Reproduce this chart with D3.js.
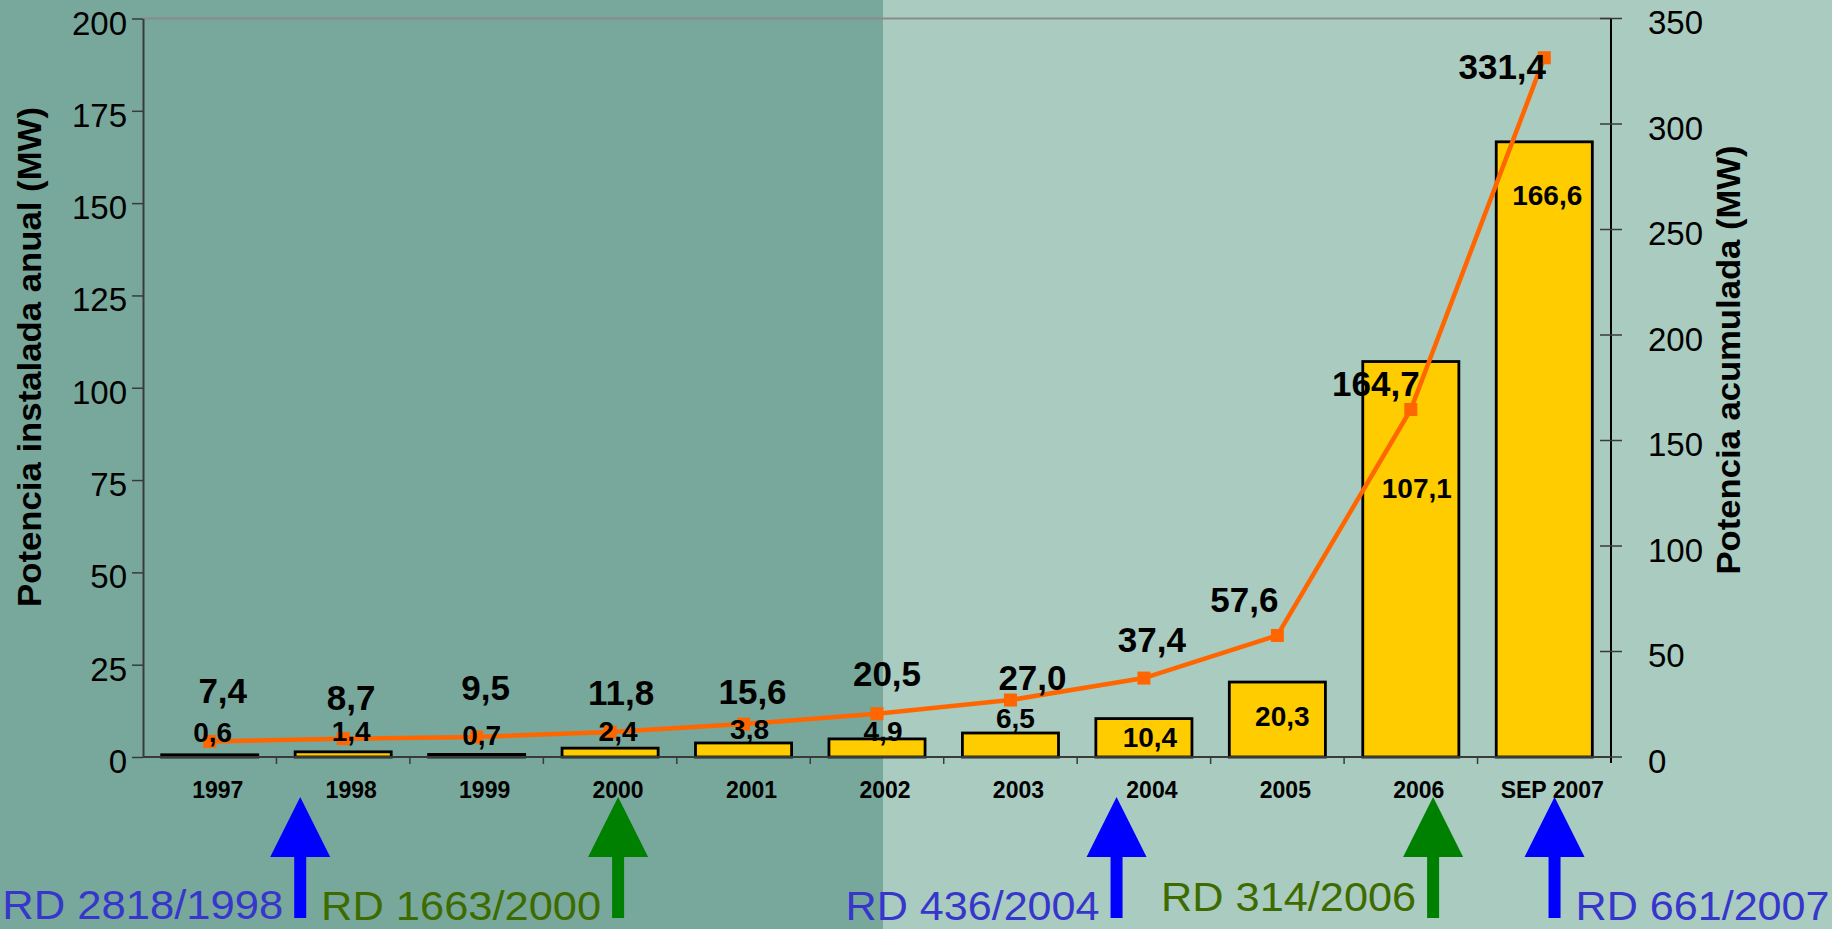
<!DOCTYPE html>
<html>
<head>
<meta charset="utf-8">
<script src="https://cdn.jsdelivr.net/npm/d3@7"></script>
<style>
  html, body { margin: 0; padding: 0; background: #aacbbf; }
  svg { display: block; font-family: "Liberation Sans", Arial, sans-serif; }
</style>
</head>
<body>
<div id="chart"></div>
<script>
// chart values
var categories = ["1997", "1998", "1999", "2000", "2001", "2002", "2003", "2004", "2005", "2006", "SEP 2007"];
var annual = [0.6, 1.4, 0.7, 2.4, 3.8, 4.9, 6.5, 10.4, 20.3, 107.1, 166.6];
var cumulative = [7.4, 8.7, 9.5, 11.8, 15.6, 20.5, 27.0, 37.4, 57.6, 164.7, 331.4];
var leftTicks = [0, 25, 50, 75, 100, 125, 150, 175, 200];
var rightTicks = [0, 50, 100, 150, 200, 250, 300, 350];
var decreeNames = ["RD 2818/1998", "RD 1663/2000", "RD 436/2004", "RD 314/2006", "RD 661/2007"];
var decreeCats = ["1998", "2000", "2004", "2006", "SEP 2007"];
var decreeKinds = ["blue", "green", "blue", "green", "blue"];

// label placement (pixels, nudged like the hand-placed labels of the original)
var annualDx = [3, 8, 5, 8, 6, 6, 5, 6, 5, 6, 3];
var annualDy = [-23, -21, -19, -17, -14, -8, -15, 18, 34, 126, 53];
var cumDx = [13, 8, 9, 11, 9, 10, 22, 8, -33, -35, -42];
var cumDy = [-51, -41, -49, -40, -33, -40, -23, -39, -36, -26, 9];
var arrowFrac = [0.178, 0.56, 0.295, 0.667, 0.577];

var width = 1832, height = 929;
// plot box (window.top is read-only, so use other names)
var pLeft = 143, pRight = 1611, pTop = 18.5, pBottom = 757;

var svg = d3.select("#chart").append("svg")
    .attr("width", width)
    .attr("height", height);

// two-tone background
svg.append("rect").attr("x", 0).attr("y", 0).attr("width", width).attr("height", height)
    .attr("fill", "#aacbbf");
svg.append("rect").attr("x", 0).attr("y", 0).attr("width", 883).attr("height", height)
    .attr("fill", "#78a89b");

var x = d3.scaleBand().domain(categories).range([pLeft, pRight])
    .paddingInner(0.28).paddingOuter(0.14);
var yL = d3.scaleLinear().domain([0, 200]).range([pBottom, pTop]);
var yR = d3.scaleLinear().domain([0, 350]).range([pBottom, pTop]);
var cx = function(d) { return x(d) + x.bandwidth() / 2; };

// top frame line
svg.append("line")
    .attr("x1", pLeft).attr("x2", pRight).attr("y1", pTop).attr("y2", pTop)
    .attr("stroke", "#8a8a8a").attr("stroke-width", 2);

// left axis
var gL = svg.append("g")
    .attr("transform", "translate(" + pLeft + ",0)")
    .call(d3.axisLeft(yL).tickValues(leftTicks).tickSize(11).tickSizeOuter(0).tickPadding(5));
gL.select(".domain").attr("stroke", "#3a3a3a").attr("stroke-width", 2);
gL.selectAll(".tick line").attr("stroke", "#3a3a3a").attr("stroke-width", 1.5);
gL.selectAll(".tick text")
    .attr("font-size", 33).attr("fill", "#000").attr("dy", "0.47em")
    .attr("font-family", "'Liberation Sans', Arial, sans-serif");

// right axis (ticks cross the line)
var gR = svg.append("g").attr("transform", "translate(" + pRight + ",0)");
gR.append("line").attr("x1", 0).attr("x2", 0).attr("y1", pTop).attr("y2", pBottom + 6)
    .attr("stroke", "#000").attr("stroke-width", 2);
gR.selectAll(".rt").data(rightTicks).enter().append("line")
    .attr("x1", -11).attr("x2", 11)
    .attr("y1", function(d) { return yR(d); }).attr("y2", function(d) { return yR(d); })
    .attr("stroke", "#3a3a3a").attr("stroke-width", 1.5);
gR.selectAll(".rl").data(rightTicks).enter().append("text")
    .attr("x", 37)
    .attr("y", function(d) { return yR(d); })
    .attr("dy", "0.47em")
    .attr("font-size", 33)
    .text(function(d) { return d; });

// axis titles
svg.append("text")
    .attr("transform", "translate(41,357) rotate(-90)")
    .attr("text-anchor", "middle")
    .attr("font-size", 34).attr("font-weight", "bold")
    .attr("textLength", 500).attr("lengthAdjust", "spacingAndGlyphs")
    .text("Potencia instalada anual (MW)");
svg.append("text")
    .attr("transform", "translate(1740,360) rotate(-90)")
    .attr("text-anchor", "middle")
    .attr("font-size", 34).attr("font-weight", "bold")
    .attr("textLength", 429).attr("lengthAdjust", "spacingAndGlyphs")
    .text("Potencia acumulada (MW)");

// bars
svg.selectAll(".bar").data(categories).enter().append("rect")
    .attr("class", "bar")
    .attr("x", function(d) { return x(d); })
    .attr("width", x.bandwidth())
    .attr("y", function(d, i) { return yL(annual[i]); })
    .attr("height", function(d, i) { return pBottom - yL(annual[i]); })
    .attr("fill", "#ffcc00")
    .attr("stroke", "#000")
    .attr("stroke-width", 2.8);

// category axis
svg.append("line")
    .attr("x1", pLeft).attr("x2", pRight).attr("y1", pBottom).attr("y2", pBottom)
    .attr("stroke", "#3a3a3a").attr("stroke-width", 2);
var half = x.step() * x.paddingInner() / 2;
svg.selectAll(".xt").data(categories.slice(1)).enter().append("line")
    .attr("x1", function(d) { return x(d) - half; })
    .attr("x2", function(d) { return x(d) - half; })
    .attr("y1", pBottom).attr("y2", pBottom + 7)
    .attr("stroke", "#3a3a3a").attr("stroke-width", 1.5);
svg.selectAll(".xl").data(categories).enter().append("text")
    .attr("x", function(d) { return cx(d) + 8; })
    .attr("y", 798)
    .attr("text-anchor", "middle")
    .attr("font-size", 23).attr("font-weight", "bold")
    .text(function(d) { return d; });

// cumulative line
var line = d3.line()
    .x(function(d, i) { return cx(categories[i]); })
    .y(function(d) { return yR(d); });
svg.append("path")
    .datum(cumulative)
    .attr("d", line)
    .attr("fill", "none")
    .attr("stroke", "#ff6600")
    .attr("stroke-width", 4.5);
svg.selectAll(".mk").data(cumulative).enter().append("rect")
    .attr("x", function(d, i) { return cx(categories[i]) - 6.5; })
    .attr("y", function(d) { return yR(d) - 6.5; })
    .attr("width", 13).attr("height", 13)
    .attr("fill", "#ff6600");

var fmt = function(v) { return v.toFixed(1).replace(".", ","); };

// annual labels
svg.selectAll(".al").data(annual).enter().append("text")
    .attr("x", function(d, i) { return cx(categories[i]) + annualDx[i]; })
    .attr("y", function(d, i) { return yL(d) + annualDy[i] + 10; })
    .attr("text-anchor", "middle")
    .attr("font-size", 28).attr("font-weight", "bold")
    .text(fmt);

// cumulative labels
svg.selectAll(".cl").data(cumulative).enter().append("text")
    .attr("x", function(d, i) { return cx(categories[i]) + cumDx[i]; })
    .attr("y", function(d, i) { return yR(d) + cumDy[i] + 12.5; })
    .attr("text-anchor", "middle")
    .attr("font-size", 35).attr("font-weight", "bold")
    .text(fmt);

// decree arrows
var arrowColor = { blue: "#0000ff", green: "#008000" };
var textColor = { blue: "#3636cc", green: "#3d6b00" };
var textWidth = [281, 280, 254, 255, 254];
var textBase = [919, 920, 920, 911, 920];
decreeNames.forEach(function(name, i) {
    var ax = x(decreeCats[i]) - half + x.step() * arrowFrac[i];
    svg.append("path")
        .attr("d", "M" + ax + ",797 L" + (ax + 30) + ",857 L" + (ax + 6) + ",857 L" + (ax + 6) + ",918 L" +
            (ax - 6) + ",918 L" + (ax - 6) + ",857 L" + (ax - 30) + ",857 Z")
        .attr("fill", arrowColor[decreeKinds[i]]);
    var last = i === decreeNames.length - 1;
    svg.append("text")
        .attr("x", last ? ax + 21 : ax - 17)
        .attr("y", textBase[i])
        .attr("text-anchor", last ? "start" : "end")
        .attr("font-size", 40)
        .attr("textLength", textWidth[i]).attr("lengthAdjust", "spacingAndGlyphs")
        .attr("fill", textColor[decreeKinds[i]])
        .text(name);
});
</script>
</body>
</html>
